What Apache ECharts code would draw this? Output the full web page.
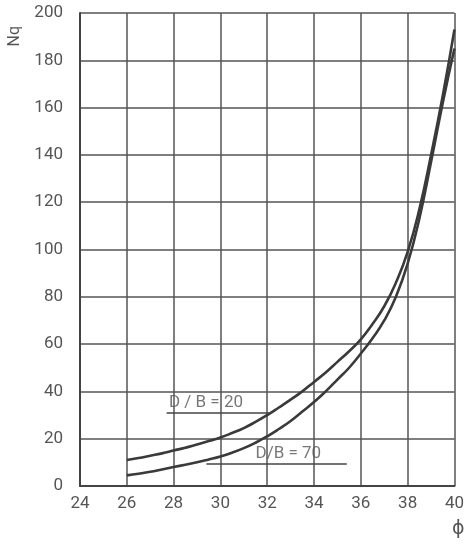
<!DOCTYPE html>
<html><head><meta charset="utf-8">
<script src="https://cdn.jsdelivr.net/npm/echarts@6/dist/echarts.min.js"></script>
<style>html,body{margin:0;padding:0;background:#fff}#c{width:467px;height:544px}</style>
</head><body><div id="c"></div>
<script>
const phi = [26, 26.5, 27, 27.5, 28, 28.5, 29, 29.5, 30, 30.5, 31, 31.5, 32, 32.5, 33, 33.5,
             34, 34.5, 35, 35.5, 36, 36.5, 37, 37.5, 38, 38.5, 39, 39.5, 40];
const nqDB20 = [11, 11.8, 12.8, 13.8, 15, 16.2, 17.5, 19, 20.5, 22.4, 24.5, 27.1, 30, 33.2, 36.5, 40,
                44, 48, 52.5, 57, 62, 68.5, 76, 86, 99, 117, 140, 165, 193];
const nqDB70 = [4.5, 5.2, 6, 7, 8, 9, 10, 11.2, 12.5, 14.1, 16, 18.3, 21, 24.1, 27.5, 31.5,
                35.5, 40, 45, 50, 56, 62.5, 70, 80, 94, 113, 137, 162, 185];
const xTicks = [24, 26, 28, 30, 32, 34, 36, 38, 40];
const yTicks = [0, 20, 40, 60, 80, 100, 120, 140, 160, 180, 200];
const leader20 = [[27.7, 30.9], [32.2, 30.9]];
const leader70 = [[29.4, 9.3], [35.4, 9.3]];
const label20 = ['D / B = 20', 27.8, 31.4];
const label70 = ['D/B = 70', 31.5, 10.0];

const font = 'Roboto';
const gray = '#555';
const chart = echarts.init(document.getElementById('c'));
const pts = (ys) => phi.map((x, i) => [x, ys[i]]);
chart.setOption({
  animation: false,
  grid: {left: 80, right: 9, top: 13, bottom: 58},
  xAxis: {
    type: 'value', min: xTicks[0], max: xTicks[xTicks.length - 1], interval: 2,
    axisLine: {lineStyle: {color: '#444', width: 2}},
    axisTick: {show: false},
    axisLabel: {color: gray, fontFamily: font, fontSize: 17, margin: 9},
    splitLine: {show: true, lineStyle: {color: '#555', width: 1.5}}
  },
  yAxis: {
    type: 'value', min: yTicks[0], max: yTicks[yTicks.length - 1], interval: 20,
    axisLine: {show: true, lineStyle: {color: '#444', width: 2}},
    axisTick: {show: false},
    axisLabel: {color: gray, fontFamily: font, fontSize: 17, margin: 17},
    splitLine: {show: true, lineStyle: {color: '#555', width: 1.5}}
  },
  graphic: [
    {type: 'text', left: 7, top: 26, rotation: Math.PI / 2,
     style: {text: 'Nq', fill: gray, font: '16px Roboto'}},
    {type: 'text', left: 452, top: 520,
     style: {text: 'ϕ', fill: gray, font: '19px "DejaVu Sans"'}}
  ],
  series: [
    {type: 'line', data: pts(nqDB20), smooth: 0.5, smoothConstraint: false, symbol: 'none',
     lineStyle: {color: '#3a3a3a', width: 2.6}},
    {type: 'line', data: pts(nqDB70), smooth: 0.5, smoothConstraint: false, symbol: 'none',
     lineStyle: {color: '#3a3a3a', width: 2.6}},
    {type: 'line', data: leader20, symbol: 'none', lineStyle: {color: '#444', width: 1.5}},
    {type: 'line', data: leader70, symbol: 'none', lineStyle: {color: '#444', width: 1.5}},
    {type: 'scatter', symbolSize: 0,
     data: [label20, label70].map(l => ({value: [l[1], l[2]], name: l[0]})),
     label: {show: true, position: [0, 0], align: 'left', verticalAlign: 'bottom',
             formatter: p => p.name, color: gray, fontFamily: font, fontSize: 17}}
  ]
});
</script></body></html>
